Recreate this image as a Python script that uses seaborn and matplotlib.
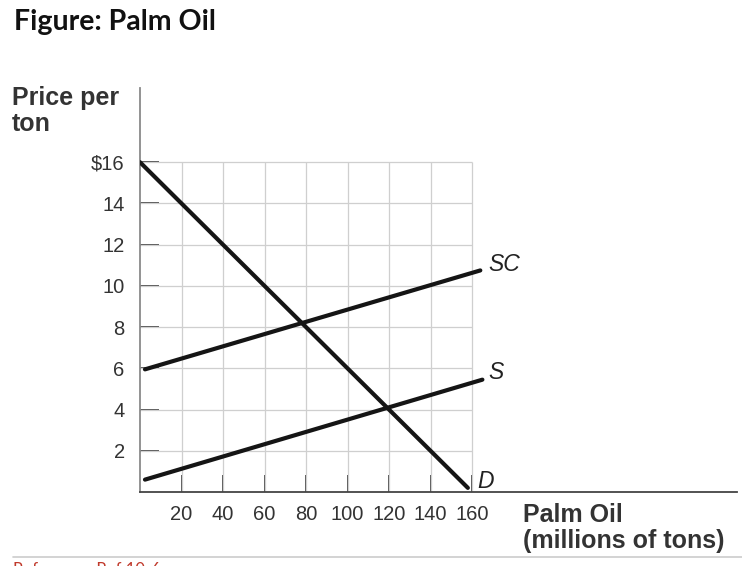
import pandas as pd
import numpy as np
import seaborn as sns
import matplotlib.pyplot as plt

# --- data ---
curves = ["D", "SC", "S"]
quantity_start = [0, 2.4, 2.4]
quantity_end = [158, 164, 165]
price_start = [16, 5.95, 0.6]
price_end = [0.2, 10.75, 5.45]

x_ticks = [20, 40, 60, 80, 100, 120, 140, 160]
y_ticks = [2, 4, 6, 8, 10, 12, 14, 16]
y_tick_labels = ["2", "4", "6", "8", "10", "12", "14", "$16"]

rows = []
for name, q0, q1, p0, p1 in zip(curves, quantity_start, quantity_end, price_start, price_end):
    rows.append({"curve": name, "quantity": q0, "price": p0})
    rows.append({"curve": name, "quantity": q1, "price": p1})
df = pd.DataFrame(rows)

sns.set_theme(style="white")
plt.rcParams["font.family"] = ["Liberation Sans", "DejaVu Sans"]

fig = plt.figure(figsize=(7.42, 5.66), dpi=100)
ax = fig.add_axes([140 / 742, 1 - 492 / 566, 597 / 742, 404 / 566])

# grid only inside the 0-160 / 0-16 box
grid_color = "#cfcfcf"
ax.vlines(x_ticks, 0, 16, color=grid_color, lw=0.9, zorder=1)
ax.hlines(y_ticks, 0, 160, color=grid_color, lw=0.9, zorder=1)

sns.lineplot(data=df, x="quantity", y="price", units="curve", estimator=None,
             color="#151515", lw=3, ax=ax, zorder=3, legend=False)

ax.set_xlim(0, 287.7)
ax.set_ylim(0, 19.6)
ax.set_xticks(x_ticks)
ax.set_xticklabels([str(t) for t in x_ticks])
ax.set_yticks(y_ticks)
ax.set_yticklabels(y_tick_labels)
ax.tick_params(axis="x", direction="in", length=12, width=1.2, color="#333333",
               labelsize=14.5, labelcolor="#333333", pad=9, bottom=True)
ax.tick_params(axis="y", direction="in", length=14, width=1.2, color="#333333",
               labelsize=14.5, labelcolor="#333333", pad=11, left=True)
ax.set_xlabel("")
ax.set_ylabel("")

for side in ["top", "right"]:
    ax.spines[side].set_visible(False)
ax.spines["left"].set_color("#8a8a8a")
ax.spines["left"].set_linewidth(1.3)
ax.spines["bottom"].set_color("#444444")
ax.spines["bottom"].set_linewidth(1.3)

# curve labels at the right ends
label_pos = {"SC": (167.7, 10.7), "S": (167.7, 5.5), "D": (162.5, 0.2)}
for name in curves:
    x, y = label_pos[name]
    ax.text(x, y, name, style="italic", fontsize=16.5, color="#222222",
            ha="left", va="baseline")

fig.text(12 / 742, 1 - 86 / 566, "Price per\nton", fontsize=18, fontweight="bold",
         color="#333333", ha="left", va="top", linespacing=1.12)
fig.text(523 / 742, 1 - 503 / 566, "Palm Oil\n(millions of tons)", fontsize=18,
         fontweight="bold", color="#333333", ha="left", va="top", linespacing=1.12)
fig.text(14 / 742, 1 - 9 / 566, "Figure: Palm Oil", fontsize=20.5, fontweight="bold",
         family=["Lato", "DejaVu Sans"], color="#111111", ha="left", va="top")

fig.add_artist(plt.Line2D([13 / 742, 1], [1 - 557 / 566] * 2, color="#cccccc", lw=1.2))
fig.text(13 / 742, 1 - 562 / 566, "Reference: Ref 10-6", fontsize=12, color="#c0392b",
         family=["Lato", "DejaVu Sans"], ha="left", va="top")

fig.savefig("out.png", dpi=100)
